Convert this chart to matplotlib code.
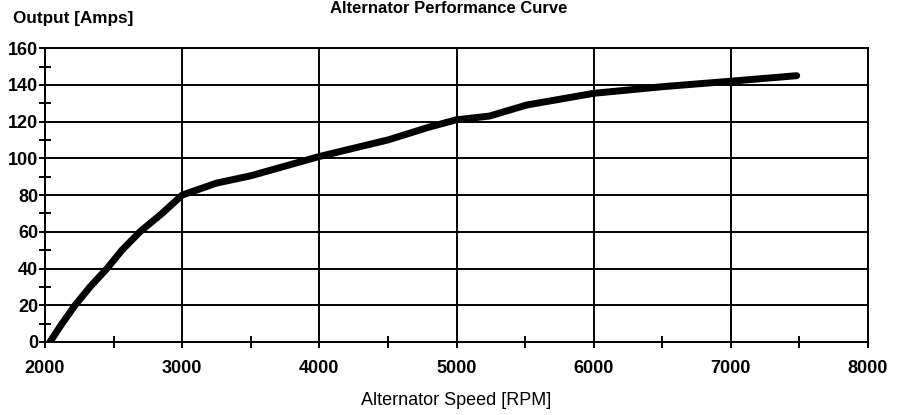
import numpy as np
import matplotlib.pyplot as plt
from matplotlib.ticker import MultipleLocator

# Alternator output
rpm = [2036, 2124, 2219, 2328, 2452, 2561, 2692, 2853, 3000, 3250, 3500,
       4000, 4500, 4800, 5000, 5240, 5510, 6000, 6500, 7000, 7480]
amps = [0, 10, 20, 30, 40, 50, 60, 70, 80, 86.5, 90.5,
        101, 110, 117, 121, 123, 129, 135.4, 139, 142, 145]

x_ticks = [2000, 3000, 4000, 5000, 6000, 7000, 8000]
y_ticks = [0, 20, 40, 60, 80, 100, 120, 140, 160]

plt.rcParams['font.family'] = ['Liberation Sans', 'DejaVu Sans']

fig = plt.figure(figsize=(8.97, 4.15), dpi=100)
ax = fig.add_axes([0.0502, 0.176, 0.9175, 0.708])

ax.plot(rpm, amps, color='black', linewidth=5, solid_capstyle='round',
        solid_joinstyle='round', zorder=3)

ax.set_xlim(2000, 8000)
ax.set_ylim(0, 160)
ax.set_xticks(x_ticks)
ax.set_yticks(y_ticks)
ax.xaxis.set_minor_locator(MultipleLocator(500))
ax.yaxis.set_minor_locator(MultipleLocator(10))
ax.grid(True, which='major', color='black', linewidth=1.4)

for s in ax.spines.values():
    s.set_linewidth(1.4)

ax.tick_params(which='major', direction='out', length=4, width=1.4, labelsize=13)
ax.tick_params(which='minor', direction='inout', length=9, width=1.4)
ax.tick_params(axis='x', which='major', pad=9)
ax.tick_params(axis='y', which='major', pad=1)
for lbl in ax.get_xticklabels() + ax.get_yticklabels():
    lbl.set_fontweight('bold')

ax.set_xlabel('Alternator Speed [RPM]', fontsize=13, labelpad=11)
fig.text(0.014, 0.955, 'Output [Amps]', fontsize=12.3, fontweight='bold', ha='left', va='center')
fig.text(0.5, 0.998, 'Alternator Performance Curve', fontsize=12, fontweight='bold', ha='center', va='top')

fig.savefig('out.png', dpi=100)
